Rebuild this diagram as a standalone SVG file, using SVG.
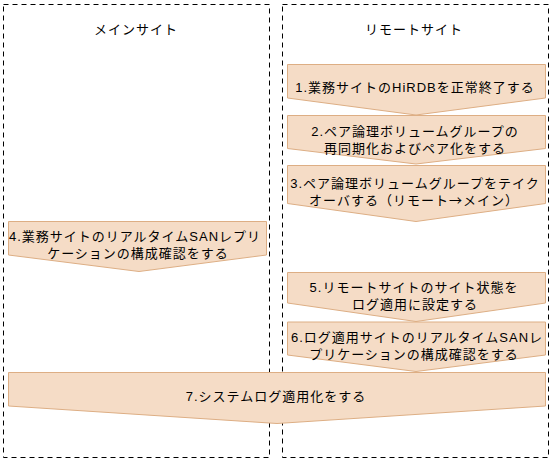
<svg xmlns="http://www.w3.org/2000/svg" width="552" height="462" viewBox="0 0 552 462">
<style>
.lane{fill:none;stroke:#000;stroke-width:1;stroke-dasharray:5,4}
.step{fill:#F5DCC6;stroke:#DDAE84;stroke-width:1}
text{font-family:"Liberation Sans","Noto Sans CJK JP",sans-serif;font-size:13px;letter-spacing:1px;fill:#000;text-anchor:middle}
.cjk{font-family:"Noto Sans CJK JP",sans-serif}
</style>
<rect width="552" height="462" fill="#fff"/>
<g id="lane-main">
<rect class="lane" x="3.5" y="4.5" width="266" height="453"/>
<text x="136" y="33.5">メインサイト</text>
</g>
<g id="lane-remote">
<rect class="lane" x="282.5" y="4.5" width="266" height="453"/>
<text x="414" y="33.5">リモートサイト</text>
</g>
<g id="step1">
<path class="step" d="M287.5,64.5 H545.5 V98 L416,115 L287.5,98 Z"/>
<text x="415" y="92">1.業務サイトのHiRDBを正常終了する</text>
</g>
<g id="step2">
<path class="step" d="M287.5,115.5 H545.5 V148.5 L416,164 L287.5,148.5 Z"/>
<text y="135.5"><tspan x="415">2.ペア論理ボリュームグループの</tspan><tspan x="415" dy="17">再同期化およびペア化をする</tspan></text>
</g>
<g id="step3">
<path class="step" d="M287.5,165.5 H545.5 V203.5 L416,221.5 L287.5,203.5 Z"/>
<text y="187.5"><tspan x="415">3.ペア論理ボリュームグループをテイク</tspan><tspan x="414" dy="17">オーバする（リモート<tspan class="cjk">→</tspan>メイン）</tspan></text>
</g>
<g id="step4">
<path class="step" d="M8.5,221.5 H266.5 V255 L139,271.5 L8.5,255 Z"/>
<text y="241"><tspan x="135">4.業務サイトのリアルタイムSANレプリ</tspan><tspan x="138" dy="17">ケーションの構成確認をする</tspan></text>
</g>
<g id="step5">
<path class="step" d="M287.5,272.5 H545.5 V303 L416,321.5 L287.5,303 Z"/>
<text y="292"><tspan x="414">5.リモートサイトのサイト状態を</tspan><tspan x="415" dy="17">ログ適用に設定する</tspan></text>
</g>
<g id="step6">
<path class="step" d="M287.5,322 H545.5 V355 L416,371.5 L287.5,355 Z"/>
<text y="342"><tspan x="417">6.ログ適用サイトのリアルタイムSANレ</tspan><tspan x="414" dy="17">プリケーションの構成確認をする</tspan></text>
</g>
<g id="step7">
<path class="step" d="M8.5,372.5 H545.5 V406 L277,423.5 L8.5,406 Z"/>
<text x="276" y="401">7.システムログ適用化をする</text>
</g>
<g id="connectors"></g>
</svg>
